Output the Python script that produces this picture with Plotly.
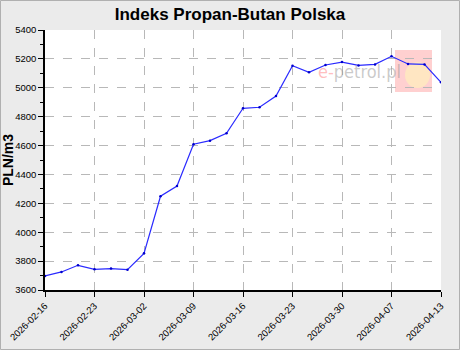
import plotly.graph_objects as go

prices = [3697, 3725, 3771, 3743, 3748, 3741, 3854, 4249, 4320, 4609, 4634, 4685,
          4858, 4865, 4943, 5153, 5107, 5158, 5178, 5155, 5162, 5218, 5165, 5162, 5038]
tick_labels = ["2026-02-16", "2026-02-23", "2026-03-02", "2026-03-09", "2026-03-16",
               "2026-03-23", "2026-03-30", "2026-04-07", "2026-04-13"]
tick_step = 3

x_idx = list(range(len(prices)))
tick_pos = [i * tick_step for i in range(len(tick_labels))]

fig = go.Figure()
fig.add_trace(go.Scatter(x=x_idx, y=prices, mode="lines+markers",
                         line=dict(color="#2a2aff", width=1.2),
                         marker=dict(size=2.5, color="#0000cc"),
                         hoverinfo="skip"))

W, H = 460, 350
ml, mr, mt, mb = 45, 19, 30, 60
pw, ph = W - ml - mr, H - mt - mb

fig.update_layout(
    width=W, height=H,
    margin=dict(l=ml, r=mr, t=mt, b=mb, pad=0, autoexpand=False),
    paper_bgcolor="#ebebeb", plot_bgcolor="white",
    showlegend=False,
    font=dict(family="Liberation Sans, Arial, sans-serif", size=10, color="black"),
    title=dict(text="<b>Indeks Propan-Butan Polska</b>", x=0.5, xanchor="center",
               y=1 - 14 / H, yanchor="middle",
               font=dict(size=17, color="black")),
)
fig.update_xaxes(range=[0, len(prices) - 1], tickvals=tick_pos, ticktext=tick_labels,
                 tickangle=-45, ticks="outside", ticklen=5, tickcolor="black",
                 showline=True, linecolor="black", linewidth=1.5, automargin=False,
                 showgrid=True, gridcolor="#b8b8b8", griddash="dash", gridwidth=1,
                 zeroline=False, tickfont=dict(size=9.5))
fig.update_yaxes(range=[3600, 5400], dtick=200, tick0=3600, ticks="outside", ticklen=5,
                 tickcolor="black", showline=True, linecolor="black", linewidth=1.5,
                 showgrid=True, gridcolor="#b8b8b8", griddash="dash", gridwidth=1,
                 zeroline=False, tickfont=dict(size=9.5), automargin=False,
                 minor=dict(dtick=100, tick0=3600, ticks="outside", ticklen=3,
                            tickcolor="black", showgrid=False),
                 title=dict(text="<b>PLN/m3</b>", font=dict(size=14), standoff=6))

# watermark (logo approximation)
fig.add_shape(type="rect", xref="paper", yref="paper",
              x0=(395 - ml) / pw, x1=(432 - ml) / pw,
              y0=1 - (92 - mt) / ph, y1=1 - (50 - mt) / ph,
              fillcolor="rgba(255,120,120,0.35)", line=dict(width=0), layer="below")
fig.add_shape(type="circle", xref="paper", yref="paper",
              x0=(405 - ml) / pw, x1=(430 - ml) / pw,
              y0=1 - (88 - mt) / ph, y1=1 - (62 - mt) / ph,
              fillcolor="rgba(255,235,190,0.8)", line=dict(width=0), layer="below")
fig.add_annotation(xref="paper", yref="paper", x=(316 - ml) / pw, y=1 - (71 - mt) / ph,
                   xanchor="left", yanchor="middle", showarrow=False,
                   text="<span style='color:rgba(255,110,110,0.45)'>e-</span>"
                        "<span style='color:rgba(150,150,150,0.5)'>petrol.pl</span>",
                   font=dict(size=18, family="Liberation Sans Narrow, DejaVu Sans Condensed, sans-serif"))

# figure border
fig.add_shape(type="rect", xref="paper", yref="paper",
              x0=-(ml - 0.5) / pw, x1=1 + (mr - 0.5) / pw,
              y0=-(mb - 0.5) / ph, y1=1 + (mt - 0.5) / ph,
              line=dict(color="#b0b0b0", width=1), fillcolor="rgba(0,0,0,0)", layer="above")

fig.write_html("out.html")
